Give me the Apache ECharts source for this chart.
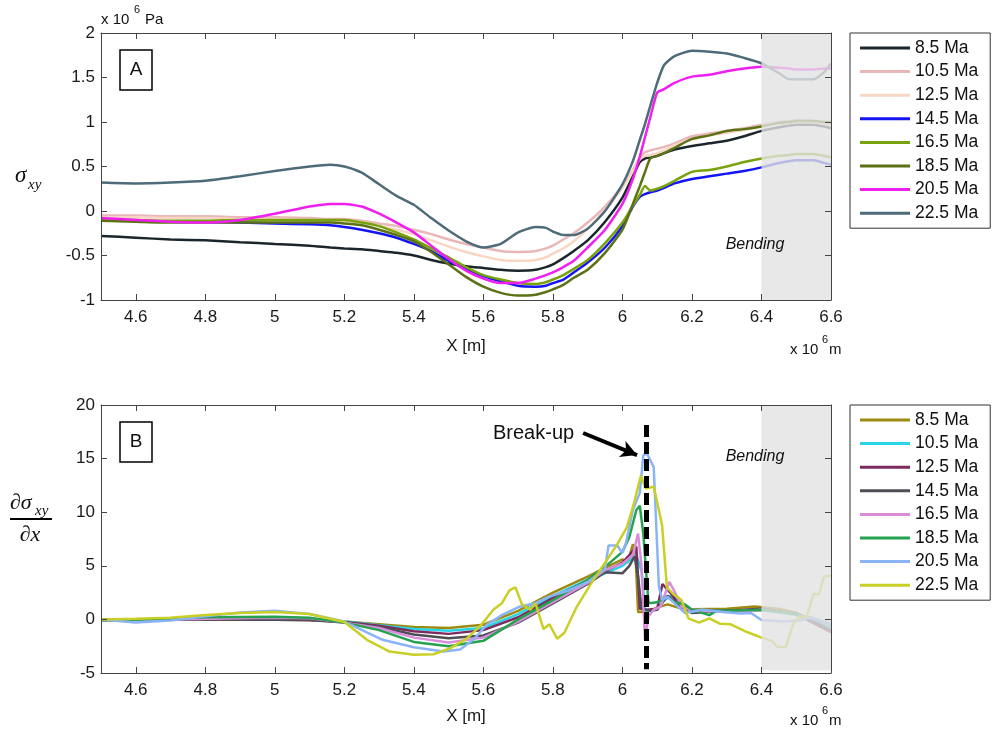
<!DOCTYPE html>
<html><head><meta charset="utf-8">
<script src="https://cdn.jsdelivr.net/npm/echarts@6/dist/echarts.min.js"></script>
<style>html,body{margin:0;padding:0;background:#fff;} #chart{width:992px;height:733px;}</style>
</head><body><div id="chart"></div>
<script>
const FONT = '"Liberation Sans", Arial, Helvetica, sans-serif';
const SERIF = '"Liberation Serif", "DejaVu Serif", serif';

const names = ['8.5 Ma', '10.5 Ma', '12.5 Ma', '14.5 Ma', '16.5 Ma', '18.5 Ma', '20.5 Ma', '22.5 Ma'];
const topColors = ['#1b262c', '#e9b7b8', '#f8d6c4', '#1414f5', '#79a30c', '#5a7214', '#f01ff0', '#4d6b78'];
const botColors = ['#9f8a10', '#28d4e6', '#7d2b5f', '#4e4e56', '#d98cd9', '#24a24f', '#8ab4f8', '#c9cf24'];

const xTicks = [4.6, 4.8, 5.0, 5.2, 5.4, 5.6, 5.8, 6.0, 6.2, 6.4, 6.6];
const xMin = 4.5, xMax = 6.6;
const topYMin = -1, topYMax = 2, topYStep = 0.5;
const botYMin = -5, botYMax = 20, botYStep = 5;
const bendStart = 6.4, bendEnd = 6.6, botBendBottom = -4.75;
const breakupX = 6.068;
const breakupLineY = [18.13, -4.65];
const arrowFrom = [5.887, 17.39], arrowTo = [6.042, 15.33];

// ---- Panel A: sigma_xy (x 10^6 Pa) ----
const topX = [4.5, 4.6, 4.7, 4.8, 4.9, 5.0, 5.1, 5.16, 5.2, 5.25, 5.3, 5.35, 5.4, 5.45, 5.5, 5.55, 5.6, 5.65, 5.7, 5.75, 5.78, 5.8, 5.83, 5.86, 5.9, 5.95, 6.0, 6.03, 6.05, 6.065, 6.08, 6.1, 6.12, 6.15, 6.2, 6.25, 6.3, 6.35, 6.4, 6.45, 6.48, 6.5, 6.55, 6.58, 6.6];
const top8_5 = [-0.28, -0.30, -0.32, -0.33, -0.35, -0.37, -0.39, -0.41, -0.42, -0.43, -0.45, -0.47, -0.50, -0.55, -0.59, -0.62, -0.64, -0.66, -0.67, -0.66, -0.63, -0.60, -0.53, -0.45, -0.33, -0.12, 0.15, 0.39, 0.55, 0.59, 0.60, 0.62, 0.65, 0.69, 0.73, 0.76, 0.79, 0.84, 0.90, 0.94, 0.96, 0.97, 0.97, 0.95, 0.93];
const top10_5 = [-0.05, -0.05, -0.06, -0.06, -0.07, -0.07, -0.08, -0.09, -0.09, -0.11, -0.14, -0.17, -0.21, -0.26, -0.32, -0.37, -0.41, -0.45, -0.46, -0.45, -0.42, -0.39, -0.32, -0.25, -0.13, 0.05, 0.28, 0.46, 0.60, 0.66, 0.68, 0.70, 0.72, 0.76, 0.84, 0.87, 0.90, 0.93, 0.97, 1.0, 1.01, 1.02, 1.01, 0.99, 0.97];
const top12_5 = [-0.07, -0.07, -0.08, -0.08, -0.09, -0.09, -0.10, -0.10, -0.11, -0.13, -0.17, -0.21, -0.26, -0.33, -0.40, -0.46, -0.51, -0.55, -0.56, -0.55, -0.52, -0.48, -0.42, -0.34, -0.20, 0.01, 0.26, 0.45, 0.58, 0.62, 0.63, 0.65, 0.68, 0.74, 0.80, 0.85, 0.88, 0.91, 0.95, 0.98, 0.99, 1.0, 1.0, 0.98, 0.97];
const top14_5 = [-0.10, -0.11, -0.12, -0.12, -0.13, -0.14, -0.15, -0.16, -0.18, -0.21, -0.25, -0.30, -0.37, -0.45, -0.56, -0.65, -0.73, -0.79, -0.84, -0.85, -0.84, -0.81, -0.77, -0.69, -0.58, -0.41, -0.17, 0.05, 0.16, 0.19, 0.21, 0.23, 0.26, 0.31, 0.36, 0.39, 0.42, 0.45, 0.49, 0.54, 0.56, 0.57, 0.57, 0.54, 0.52];
const top16_5 = [-0.09, -0.10, -0.11, -0.11, -0.10, -0.10, -0.10, -0.10, -0.10, -0.13, -0.17, -0.24, -0.32, -0.42, -0.52, -0.63, -0.72, -0.77, -0.81, -0.82, -0.80, -0.77, -0.72, -0.65, -0.55, -0.36, -0.13, 0.06, 0.18, 0.28, 0.23, 0.25, 0.28, 0.34, 0.44, 0.46, 0.50, 0.55, 0.59, 0.62, 0.63, 0.64, 0.64, 0.62, 0.60];
const top18_5 = [-0.11, -0.12, -0.13, -0.13, -0.13, -0.13, -0.13, -0.13, -0.14, -0.16, -0.21, -0.27, -0.34, -0.46, -0.60, -0.74, -0.85, -0.92, -0.95, -0.94, -0.91, -0.88, -0.83, -0.75, -0.66, -0.47, -0.21, 0.08, 0.28, 0.44, 0.59, 0.62, 0.65, 0.71, 0.81, 0.85, 0.90, 0.92, 0.95, 0.99, 1.0, 1.01, 1.01, 1.0, 1.0];
const top20_5 = [-0.08, -0.10, -0.12, -0.13, -0.10, -0.03, 0.05, 0.08, 0.08, 0.05, -0.03, -0.13, -0.24, -0.39, -0.54, -0.67, -0.76, -0.81, -0.81, -0.76, -0.72, -0.69, -0.63, -0.56, -0.41, -0.21, 0.08, 0.36, 0.61, 0.83, 1.05, 1.33, 1.37, 1.44, 1.51, 1.53, 1.57, 1.60, 1.62, 1.61, 1.60, 1.59, 1.59, 1.60, 1.60];
const top22_5 = [0.32, 0.31, 0.32, 0.34, 0.39, 0.45, 0.50, 0.52, 0.50, 0.43, 0.30, 0.17, 0.07, -0.08, -0.22, -0.34, -0.41, -0.37, -0.24, -0.18, -0.19, -0.23, -0.27, -0.27, -0.20, 0.0, 0.30, 0.56, 0.80, 0.98, 1.18, 1.44, 1.64, 1.74, 1.80, 1.79, 1.77, 1.72, 1.66, 1.55, 1.48, 1.48, 1.48, 1.56, 1.66];

// ---- Panel B: d sigma_xy / dx ----
const botX8_5 = [4.5, 4.7, 4.9, 5.1, 5.2, 5.3, 5.4, 5.5, 5.6, 5.7, 5.8, 5.9, 5.95, 6.0, 6.015, 6.03, 6.037, 6.045, 6.07, 6.1, 6.13, 6.16, 6.2, 6.3, 6.38, 6.45, 6.5, 6.55, 6.6];
const botY8_5 = [0, 0, 0, -0.05, -0.2, -0.45, -0.7, -0.8, -0.5, 0.8, 2.5, 4.0, 4.8, 5.6, 5.3, 7.0, 6.5, 0.7, 0.7, 1.1, 1.4, 1.1, 0.95, 1.0, 1.2, 1.0, 0.6, -0.2, -1.2];
const botX10_5 = [4.5, 4.7, 4.9, 5.1, 5.2, 5.3, 5.4, 5.5, 5.6, 5.7, 5.8, 5.9, 5.95, 6.0, 6.02, 6.04, 6.055, 6.065, 6.08, 6.1, 6.12, 6.14, 6.16, 6.2, 6.3, 6.4, 6.5, 6.6];
const botY10_5 = [0, 0, 0.05, 0, -0.2, -0.55, -0.9, -1.05, -0.8, 0.5, 2.2, 3.7, 4.3, 5.0, 5.5, 6.0, 4.5, 0.8, 0.8, 1.0, 1.8, 2.2, 1.8, 0.9, 0.8, 0.9, 0.4, -0.7];
const botX12_5 = [4.5, 4.7, 4.9, 5.1, 5.2, 5.3, 5.4, 5.5, 5.6, 5.7, 5.8, 5.9, 5.95, 6.0, 6.02, 6.04, 6.05, 6.07, 6.1, 6.115, 6.14, 6.16, 6.2, 6.3, 6.4, 6.5, 6.6];
const botY12_5 = [0, 0, 0, -0.05, -0.25, -0.6, -1.1, -1.35, -1.0, 0.2, 2.0, 3.6, 4.5, 5.3, 6.0, 6.8, 1.0, 0.9, 1.0, 3.3, 2.4, 1.5, 0.8, 0.8, 1.0, 0.5, -1.2];
const botX14_5 = [4.5, 4.7, 4.9, 5.1, 5.2, 5.3, 5.4, 5.5, 5.6, 5.7, 5.8, 5.9, 5.95, 6.0, 6.02, 6.035, 6.045, 6.055, 6.08, 6.1, 6.13, 6.16, 6.2, 6.3, 6.4, 6.5, 6.6];
const botY14_5 = [0, 0, 0, -0.05, -0.3, -0.7, -1.4, -1.75, -1.5, -0.3, 1.5, 3.3, 4.4, 4.3, 5.0, 5.9, 4.0, 1.0, 0.8, 0.9, 2.2, 1.4, 0.6, 0.8, 0.9, 0.6, -1.0];
const botX16_5 = [4.5, 4.7, 4.9, 5.0, 5.1, 5.2, 5.3, 5.4, 5.5, 5.6, 5.7, 5.8, 5.9, 5.95, 6.0, 6.03, 6.045, 6.055, 6.065, 6.075, 6.09, 6.11, 6.135, 6.15, 6.17, 6.2, 6.3, 6.4, 6.5, 6.6];
const botY16_5 = [-0.1, 0, 0.1, 0.15, 0.1, -0.3, -0.8, -1.7, -2.15, -1.7, -0.2, 1.6, 3.4, 4.6, 5.2, 6.0, 8.0, 5.0, -1.9, 0.3, 0.9, 1.2, 3.5, 2.6, 1.2, 0.8, 0.7, 0.9, 0.5, -0.5];
const botX18_5 = [4.5, 4.7, 4.8, 5.0, 5.1, 5.2, 5.3, 5.4, 5.5, 5.6, 5.7, 5.8, 5.9, 5.95, 6.0, 6.02, 6.04, 6.05, 6.06, 6.075, 6.1, 6.13, 6.15, 6.18, 6.2, 6.25, 6.27, 6.3, 6.4, 6.5, 6.6];
const botY18_5 = [-0.1, 0.05, 0.2, 0.25, 0.15, -0.3, -1.0, -2.1, -2.5, -2.0, 0.0, 1.8, 3.7, 4.9, 6.3, 7.7, 10.2, 10.6, 8.0, 1.5, 1.6, 2.1, 1.6, 1.4, 0.9, 0.4, 0.8, 0.8, 0.9, 0.5, -0.4];
const botX20_5 = [4.5, 4.6, 4.7, 4.8, 4.9, 5.0, 5.1, 5.2, 5.31, 5.4, 5.485, 5.533, 5.571, 5.61, 5.653, 5.701, 5.749, 5.787, 5.845, 5.9, 5.95, 5.96, 5.985, 6.0, 6.01, 6.03, 6.05, 6.06, 6.07, 6.09, 6.105, 6.115, 6.13, 6.15, 6.18, 6.23, 6.29, 6.34, 6.37, 6.4, 6.46, 6.51, 6.54, 6.6];
const botY20_5 = [0, -0.3, -0.1, 0.3, 0.65, 0.8, 0.5, -0.2, -1.9, -2.6, -3.0, -2.8, -1.9, -0.5, 0.4, 1.15, 1.5, 2.1, 2.7, 3.5, 4.7, 6.9, 6.9, 6.2, 7.1, 10.2, 11.8, 15.3, 15.5, 14.2, 3.0, 1.8, 2.1, 1.5, 0.6, 0.9, 0.7, 0.55, 0.6, -0.05, -0.2, -0.1, 0.2, -0.4];
const botX22_5 = [4.5, 4.6, 4.7, 4.8, 4.9, 5.0, 5.1, 5.2, 5.265, 5.33, 5.4, 5.456, 5.504, 5.552, 5.59, 5.63, 5.653, 5.675, 5.692, 5.711, 5.735, 5.75, 5.773, 5.79, 5.812, 5.833, 5.869, 5.907, 5.946, 5.985, 6.013, 6.032, 6.053, 6.067, 6.09, 6.114, 6.128, 6.145, 6.17, 6.19, 6.22, 6.25, 6.28, 6.31, 6.36, 6.4, 6.43, 6.445, 6.47, 6.49, 6.51, 6.53, 6.55, 6.565, 6.58, 6.6];
const botY22_5 = [0, 0.05, 0.15, 0.4, 0.6, 0.7, 0.5, -0.25, -1.9, -3.0, -3.3, -3.25, -2.7, -1.8, -0.65, 0.95, 1.5, 2.7, 3.0, 1.4, 0.9, 1.5, -0.9, -0.45, -1.8, -1.25, 1.2, 3.2, 5.1, 7.0, 8.6, 10.7, 13.4, 12.2, 12.4, 8.8, 3.0, 2.4, 1.8, 0.1, -0.3, 0.1, -0.4, -0.45, -1.2, -1.7, -2.0, -2.55, -2.6, -0.5, 0.3, 0.2, 2.4, 2.3, 4.0, 4.1];

const topYs = [top8_5, top10_5, top12_5, top14_5, top16_5, top18_5, top20_5, top22_5];
const botXs = [botX8_5, botX10_5, botX12_5, botX14_5, botX16_5, botX18_5, botX20_5, botX22_5];
const botYs = [botY8_5, botY10_5, botY12_5, botY14_5, botY16_5, botY18_5, botY20_5, botY22_5];

const BPFX = 'B ';
const series = [];
topYs.forEach((ys, i) => series.push({
  type: 'line', name: names[i], xAxisIndex: 0, yAxisIndex: 0,
  data: topX.map((x, j) => [x, ys[j]]),
  symbol: 'none', showSymbol: false, smooth: 0.2, z: 2,
  lineStyle: { color: topColors[i], width: 2.5 }, itemStyle: { color: topColors[i] },
  emphasis: { disabled: true }, animation: false
}));
botYs.forEach((ys, i) => series.push({
  type: 'line', name: BPFX + names[i], xAxisIndex: 2, yAxisIndex: 2,
  data: botXs[i].map((x, j) => [x, ys[j]]),
  symbol: 'none', showSymbol: false, smooth: false, z: 2,
  lineStyle: { color: botColors[i], width: 2.5 }, itemStyle: { color: botColors[i] },
  emphasis: { disabled: true }, animation: false
}));
const grayStyle = { color: 'rgba(226,226,226,0.8)' };
series.push({
  type: 'line', name: 'bendA', xAxisIndex: 0, yAxisIndex: 0, data: [], z: 10, silent: true, animation: false,
  markArea: { silent: true, z: 10, animation: false, itemStyle: grayStyle, label: { show: false },
    data: [[{ xAxis: bendStart, yAxis: topYMin }, { xAxis: bendEnd, yAxis: topYMax }]] }
});
series.push({
  type: 'line', name: 'bendB', xAxisIndex: 2, yAxisIndex: 2, data: [], z: 10, silent: true, animation: false,
  markArea: { silent: true, z: 10, animation: false, itemStyle: grayStyle, label: { show: false },
    data: [[{ xAxis: bendStart, yAxis: botBendBottom }, { xAxis: bendEnd, yAxis: botYMax }]] },
  markLine: { silent: true, z: 12, animation: false, symbol: ['none', 'none'], label: { show: false },
    emphasis: { disabled: true },
    data: [
      [{ coord: [breakupX, breakupLineY[0]], lineStyle: { type: [12, 5], width: 5, color: '#000' } },
       { coord: [breakupX, breakupLineY[1]] }],
      [{ coord: arrowFrom, lineStyle: { type: 'solid', width: 4, color: '#000' } },
       { coord: arrowTo, symbol: 'arrow', symbolSize: [13, 16] }]
    ] }
});

const tickFmt = v => String(Math.round(v * 10) / 10);
const axisColor = '#444';
function xAxisPair(gridIndex, nameGap) {
  return [
    { type: 'value', gridIndex, position: 'bottom', min: xMin, max: xMax, z: 20,
      name: 'X [m]', nameLocation: 'middle', nameGap,
      nameTextStyle: { fontFamily: FONT, fontSize: 17, color: '#1a1a1a' },
      axisLine: { show: true, onZero: false, lineStyle: { color: axisColor, width: 1 } },
      axisTick: { show: true, inside: true, length: 6, customValues: xTicks, lineStyle: { color: axisColor } },
      axisLabel: { show: true, customValues: xTicks, formatter: tickFmt, margin: 9, fontFamily: FONT, fontSize: 17, color: '#1a1a1a' },
      splitLine: { show: false } },
    { type: 'value', gridIndex, position: 'top', min: xMin, max: xMax, z: 20,
      axisLine: { show: true, onZero: false, lineStyle: { color: axisColor, width: 1 } },
      axisTick: { show: true, inside: true, length: 6, customValues: xTicks, lineStyle: { color: axisColor } },
      axisLabel: { show: false }, splitLine: { show: false } }
  ];
}
function yAxisPair(gridIndex, min, max, interval) {
  return [
    { type: 'value', gridIndex, position: 'left', min, max, interval, z: 20,
      axisLine: { show: true, onZero: false, lineStyle: { color: axisColor, width: 1 } },
      axisTick: { show: true, inside: true, length: 6, lineStyle: { color: axisColor } },
      axisLabel: { show: true, margin: 6, fontFamily: FONT, fontSize: 17, color: '#1a1a1a' },
      splitLine: { show: false } },
    { type: 'value', gridIndex, position: 'right', min, max, interval, z: 20,
      axisLine: { show: true, onZero: false, lineStyle: { color: axisColor, width: 1 } },
      axisTick: { show: true, inside: true, length: 6, lineStyle: { color: axisColor } },
      axisLabel: { show: false }, splitLine: { show: false } }
  ];
}

function legendFor(top, data, fmt) {
  return {
    data, left: 850, top, orient: 'vertical', icon: 'rect', itemWidth: 50, itemHeight: 3, itemGap: 3.6,
    padding: [5, 12, 5, 10], borderColor: '#333', borderWidth: 1, backgroundColor: '#fff',
    selectedMode: false, formatter: fmt,
    textStyle: { fontFamily: FONT, fontSize: 17.5, color: '#111', lineHeight: 20 }
  };
}

function txt(x, y, text, font, align, extra) {
  return Object.assign({ type: 'text', x, y, z: 100,
    style: { text, font, fill: '#111', align: align || 'left', verticalAlign: 'middle' } }, extra || {});
}
const graphic = [
  { type: 'rect', z: 100, shape: { x: 120, y: 50, width: 32, height: 40 }, style: { fill: '#fff', stroke: '#000', lineWidth: 1.5 } },
  txt(136, 70, 'A', '19px ' + FONT, 'center'),
  { type: 'rect', z: 100, shape: { x: 120, y: 422, width: 32, height: 40 }, style: { fill: '#fff', stroke: '#000', lineWidth: 1.5 } },
  txt(136, 442, 'B', '19px ' + FONT, 'center'),
  txt(755, 245, 'Bending', 'italic 16px ' + FONT, 'center'),
  txt(755, 457, 'Bending', 'italic 16px ' + FONT, 'center'),
  txt(493, 433, 'Break-up', '20px ' + FONT, 'left'),
  // units
  txt(101, 20, 'x 10', '15px ' + FONT), txt(134, 10, '6', '11px ' + FONT), txt(145, 20, 'Pa', '15px ' + FONT),
  txt(790, 350, 'x 10', '15px ' + FONT), txt(822, 340, '6', '11px ' + FONT), txt(829, 350, 'm', '15px ' + FONT),
  txt(790, 721, 'x 10', '15px ' + FONT), txt(822, 711, '6', '11px ' + FONT), txt(829, 721, 'm', '15px ' + FONT),
  // y labels
  txt(15, 176, 'σ', 'italic 23px ' + SERIF), txt(28, 185, 'xy', 'italic 15px ' + SERIF),
  txt(10, 503, '∂σ', 'italic 22px ' + SERIF), txt(35, 511, 'xy', 'italic 15px ' + SERIF),
  { type: 'line', z: 100, shape: { x1: 10, y1: 519, x2: 52, y2: 519 }, style: { stroke: '#000', lineWidth: 1.8 } },
  txt(30, 535, '∂x', 'italic 22px ' + SERIF, 'center')
];

const chart = echarts.init(document.getElementById('chart'), null, { renderer: 'canvas' });
chart.setOption({
  animation: false,
  backgroundColor: '#fff',
  textStyle: { fontFamily: FONT },
  grid: [
    { left: 101, top: 33, width: 730, height: 267, containLabel: false },
    { left: 101, top: 405, width: 730, height: 268, containLabel: false }
  ],
  xAxis: [...xAxisPair(0, 38), ...xAxisPair(1, 35)],
  yAxis: [...yAxisPair(0, topYMin, topYMax, topYStep), ...yAxisPair(1, botYMin, botYMax, botYStep)],
  legend: [
    legendFor(33, names, n => n),
    legendFor(405, names.map(n => BPFX + n), n => n.slice(BPFX.length))
  ],
  series,
  graphic
});
</script></body></html>
